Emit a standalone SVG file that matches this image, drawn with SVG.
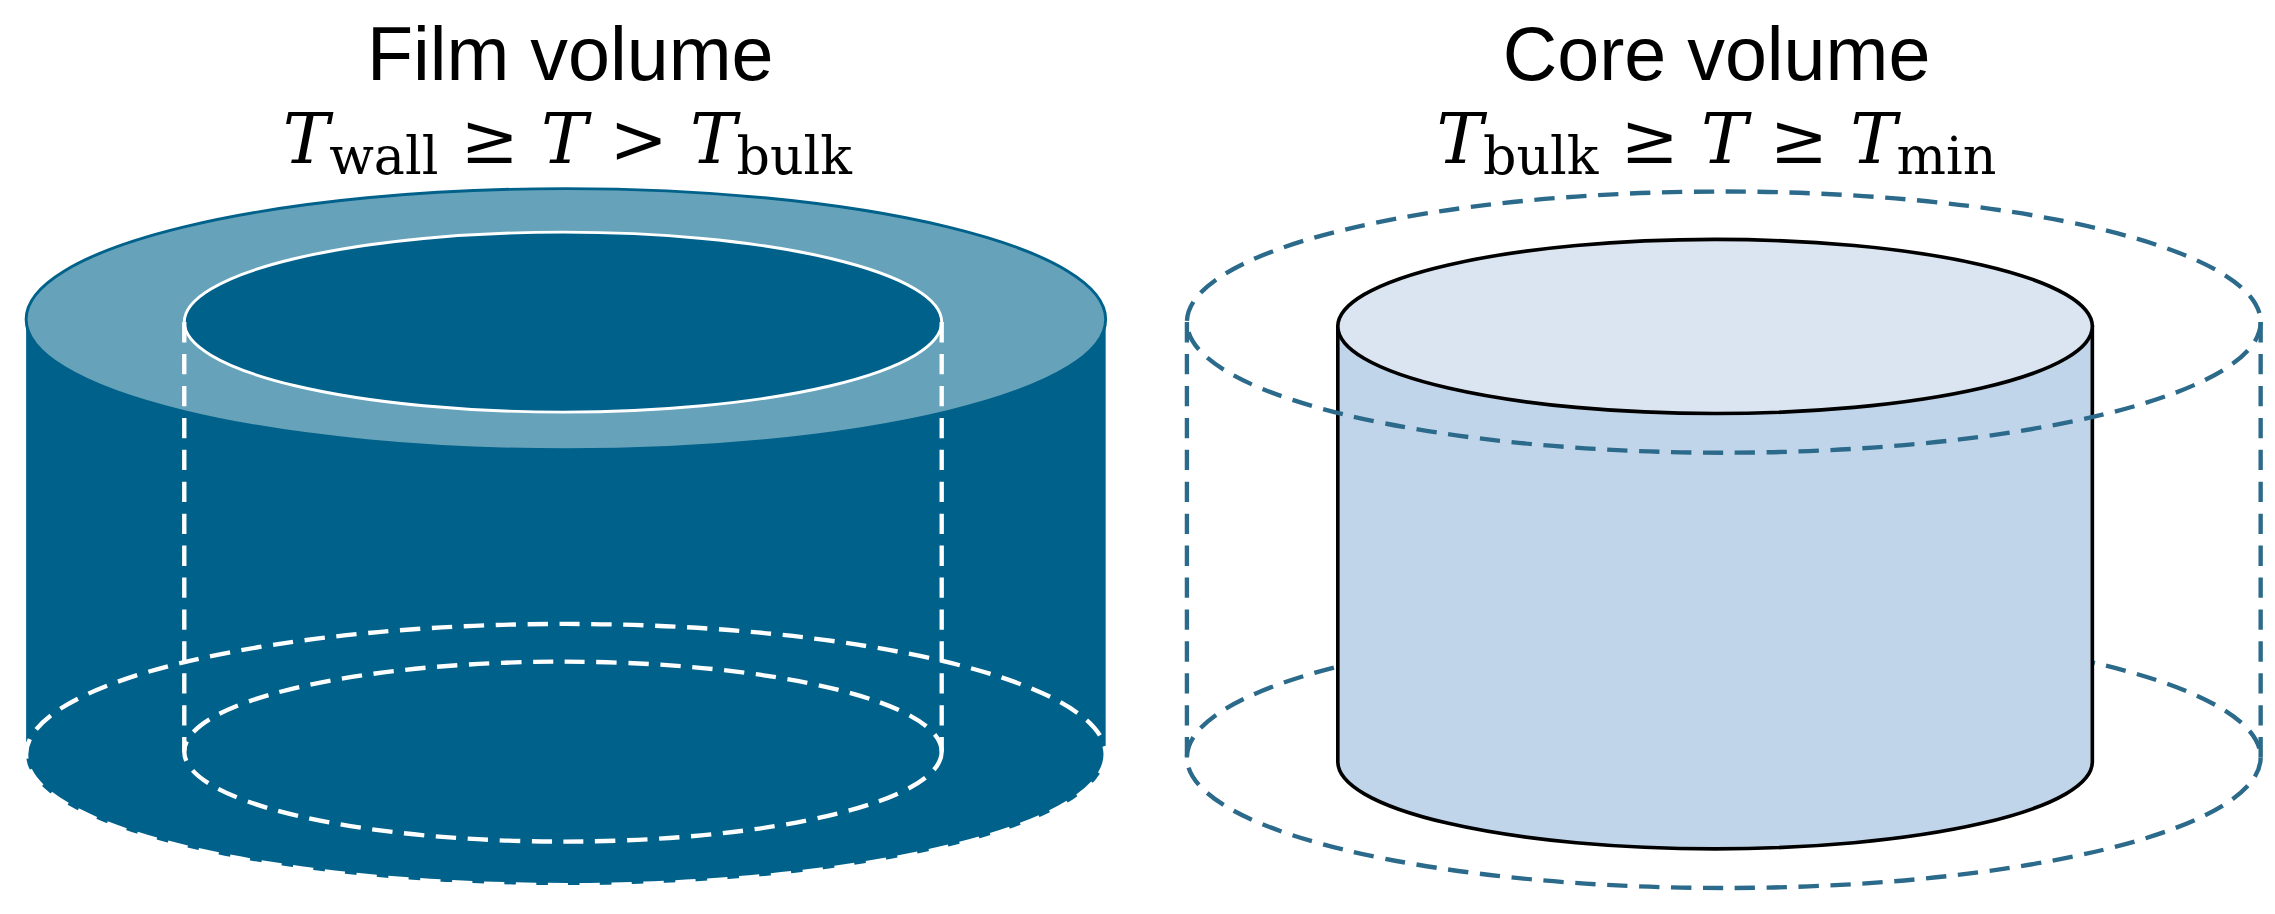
<svg xmlns="http://www.w3.org/2000/svg" width="2275" height="914" viewBox="0 0 2275 914">
<style>
.t{font-family:"Liberation Sans",Arial,sans-serif;font-size:52px;fill:#000;text-anchor:middle}
.m{font-family:"DejaVu Serif","Liberation Serif",serif;font-size:48px;fill:#000}
.i{font-style:italic}
.s{font-size:36px}
.wd{fill:none;stroke:#fff;stroke-width:3;stroke-dasharray:14 8}
.bd{fill:none;stroke:#2b6a8a;stroke-width:3;stroke-dasharray:14 8}
</style>
<rect width="2275" height="914" fill="#fff"/>
<g transform="scale(1.451)">
<g id="film">
<text class="t" x="393" y="55">Film volume</text>
<text class="m" x="391" y="112" text-anchor="middle"><tspan class="i">T</tspan><tspan class="s" dy="8">wall</tspan><tspan dy="-8"> ≥ </tspan><tspan class="i">T</tspan><tspan> &gt; </tspan><tspan class="i">T</tspan><tspan class="s" dy="8">bulk</tspan></text>
<path d="M18,220 L18,520 A372,90 0 0 0 762,520 L762,220 Z" fill="#00618a"/>
<ellipse cx="390" cy="220" rx="372" ry="90" fill="#66a3ba" stroke="#00618a" stroke-width="2"/>
<ellipse cx="388" cy="222" rx="261" ry="62" fill="#00618a" stroke="#fff" stroke-width="2"/>
<line class="wd" x1="127" y1="222" x2="127" y2="518"/>
<line class="wd" x1="649" y1="222" x2="649" y2="518"/>
<ellipse class="wd" cx="388" cy="518" rx="261" ry="62"/>
<ellipse class="wd" cx="390" cy="520" rx="372" ry="90"/>
</g>
<g id="core">
<text class="t" x="1183" y="55">Core volume</text>
<text class="m" x="1183" y="112" text-anchor="middle"><tspan class="i">T</tspan><tspan class="s" dy="8">bulk</tspan><tspan dy="-8"> ≥ </tspan><tspan class="i">T</tspan><tspan> ≥ </tspan><tspan class="i">T</tspan><tspan class="s" dy="8">min</tspan></text>
<ellipse class="bd" cx="1188" cy="522" rx="370" ry="90"/>
<path d="M922,225 L922,525 A260,60 0 0 0 1442,525 L1442,225 Z" fill="#c0d5ea" stroke="#000" stroke-width="2.5"/>
<ellipse cx="1182" cy="225" rx="260" ry="60" fill="#dae5f1" stroke="#000" stroke-width="2.5"/>
<ellipse class="bd" cx="1188" cy="222" rx="370" ry="90"/>
<line class="bd" x1="818" y1="222" x2="818" y2="522"/>
<line class="bd" x1="1558" y1="222" x2="1558" y2="522"/>
</g>
</g>
</svg>
